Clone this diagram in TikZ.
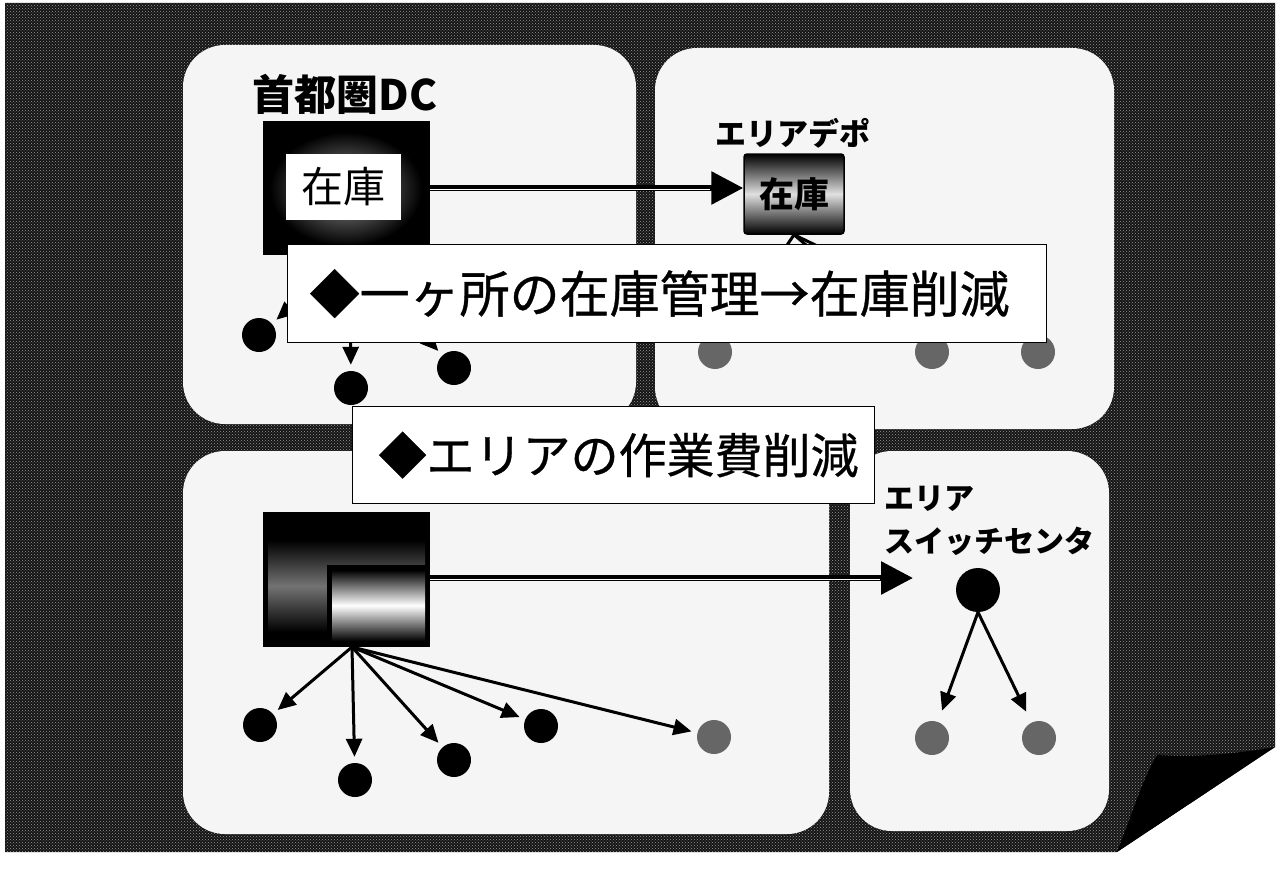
\documentclass[tikz,border=0pt]{standalone}
\usepackage{fontspec}
\setmainfont{Noto Sans CJK JP}
\newfontfamily\bannerfont[FakeBold=0.6]{Noto Sans CJK JP}
\usetikzlibrary{arrows.meta,patterns,calc}

\tikzset{
    panel/.style={fill=black!4, rounded corners=42pt},
    banner/.style={draw, fill=white, line width=1.2pt, inner xsep=22pt, inner ysep=0pt, align=left},
    dot/.style={circle, fill=black, inner sep=0pt, minimum size=34pt},
    greydot/.style={dot, fill=black!60},
    link/.style={line width=3pt, -{Triangle[length=18pt,width=16pt]}, shorten >=6pt},
    bigarrow/.style={line width=6pt, -{Triangle[length=32pt,width=32pt]}},
    stripe/.style={white, line width=1.2pt, shorten >=33pt}
}

\begin{document}
\begin{tikzpicture}[x=1pt, y=-1pt]
    \useasboundingbox (0,0) rectangle (1278,883);

    % textured page with folded corner
    \fill[black!92] (5,3) -- (1275,3) -- (1275,747) -- (1117,852) -- (5,852) -- cycle;
    \fill[pattern=crosshatch dots, pattern color=black!40] (5,3) -- (1275,3) -- (1275,747) -- (1117,852) -- (5,852) -- cycle;
    \fill[black] (1117,852) .. controls (1133,812) and (1143,778) .. (1157,755)
        .. controls (1200,758) and (1240,753) .. (1275,747) -- cycle;

    % the four panels
    \fill[panel] (183,45) rectangle (636,424);
    \fill[panel] (655,48) rectangle (1114,429);
    \fill[panel] (183,451) rectangle (829,834);
    \fill[panel] (850,451) rectangle (1109,831);

    % metropolitan DC
    \node[font=\bfseries\fontsize{42}{42}\selectfont] (dclabel) at (345,94) {首都圏DC};
    \node[fill=black, minimum width=167pt, minimum height=134pt, inner sep=0pt] (dcbox) at (346,188) {};
    \shade[inner color=black!40, outer color=black] (270,132) rectangle (422,246);
    \node[fill=white, minimum width=115pt, minimum height=66pt, inner sep=0pt,
        font=\fontsize{42}{42}\selectfont] (dcstock) at (343,187) {在庫};
    \coordinate (dcfoot) at (350,255);

    \node[dot] (d1) at (259,335) {};
    \node[dot] (d2) at (351,388) {};
    \node[dot] (d3) at (454,368) {};
    \foreach \d in {d1,d2,d3}
        \draw[link] (dcfoot) -- (\d);

    % area depot
    \node[font=\bfseries\fontsize{31}{31}\selectfont] (depotlabel) at (793,133) {エリアデポ};
    \node[draw=black, line width=1.5pt, rounded corners=3pt, minimum width=100pt, minimum height=80pt,
        top color=black, bottom color=black, middle color=black!12,
        font=\bfseries\fontsize{35}{35}\selectfont] (depot) at (794,194) {在庫};

    \node[greydot] (g1) at (715,352) {};
    \node[greydot] (g2) at (932,352) {};
    \node[greydot] (g3) at (1038,352) {};
    \foreach \g in {g1,g2,g3}
        \draw[link] (depot.south) -- (\g);

    \draw[bigarrow] (dcbox.east) -- (dcbox.east -| depot.west);
    \draw[stripe] ($(dcbox.east)+(0,1.3)$) -- ($(dcbox.east -| depot.west)+(0,1.3)$);

    % direct delivery from the DC
    \node[fill=black, minimum width=167pt, minimum height=135pt, inner sep=0pt] (dc2) at (346.5,579.5) {};
    \shade[top color=black, bottom color=black, middle color=black!55] (268,540) rectangle (425,632);
    \node[fill=black, minimum width=103pt, minimum height=82pt, inner sep=0pt] (ibox) at (378.5,606) {};
    \shade[top color=black, bottom color=black, middle color=white] (332,570) rectangle (425,641);
    \coordinate (dc2foot) at (352,647);

    \node[dot] (b1) at (260,725) {};
    \node[dot] (b2) at (355,780) {};
    \node[dot] (b3) at (454,760) {};
    \node[dot] (b4) at (541,726) {};
    \node[greydot] (b5) at (714,737) {};
    \foreach \b in {b1,b2,b3,b4,b5}
        \draw[link] (dc2foot) -- (\b);

    % area switch center
    \node[anchor=north west, align=left, inner sep=0pt,
        font=\bfseries\fontsize{30}{43}\selectfont] (swlabel) at (884,486) {エリア\\スイッチセンタ};
    \node[dot, minimum size=44pt] (sw) at (978,590) {};
    \node[greydot] (s1) at (932,738) {};
    \node[greydot] (s2) at (1039,738) {};
    \draw[link, shorten >=12pt] (sw.south) -- (s1);
    \draw[link, shorten >=12pt] (sw.south) -- (s2);

    \coordinate (swin) at (913,578);
    \draw[bigarrow] (swin -| ibox.east) -- (swin);
    \draw[stripe] ($(swin -| ibox.east)+(0,1.3)$) -- ($(swin)+(0,1.3)$);

    % banners
    \node[banner, anchor=north west, minimum width=759pt, minimum height=98pt, text width=715pt,
        font=\bannerfont\fontsize{50}{50}\selectfont] (stockcut) at (287,244) {◆一ヶ所の在庫管理→在庫削減};
    \node[banner, anchor=north west, minimum width=514pt, minimum height=97pt, text width=470pt,
        inner xsep=26pt, font=\bannerfont\fontsize{48}{48}\selectfont] (workcut) at (352,406) {◆エリアの作業費削減};
\end{tikzpicture}
\end{document}
